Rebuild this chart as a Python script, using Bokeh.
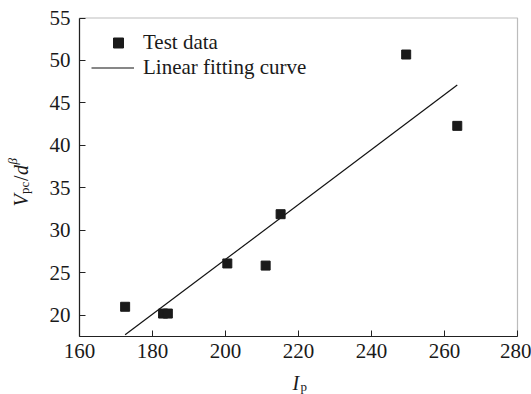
import numpy as np
from bokeh.plotting import figure
from bokeh.models import Legend, LegendItem, Label, FixedTicker, Range1d, BoxAnnotation
from bokeh.embed import file_html
from bokeh.resources import INLINE

# Data
ip_values = [172.5, 182.9, 184.2, 200.5, 211.0, 215.1, 249.5, 263.5]
vpc_values = [21.0, 20.2, 20.2, 26.1, 25.85, 31.9, 50.7, 42.3]
x_ticks = [160, 180, 200, 220, 240, 260, 280]
y_ticks = [20, 25, 30, 35, 40, 45, 50, 55]
x_lim = [160, 280]
y_lim = [17.5, 55]
legend_labels = ["Test data", "Linear fitting curve"]

# Linear fit of the test data
slope, intercept = np.polyfit(ip_values, vpc_values, 1)
fit_x = [min(ip_values), max(ip_values)]
fit_y = [slope * v + intercept for v in fit_x]

# layout (pixels): plot box inside the 531x394 canvas
W, H = 531, 394
BL, BR, BT, BB = 79, 14, 17.5, 58
kx = (x_lim[1] - x_lim[0]) / (W - BL - BR)
ky = (y_lim[1] - y_lim[0]) / (H - BT - BB)
x_range = Range1d(x_lim[0] - BL * kx, x_lim[1] + BR * kx)
y_range = Range1d(y_lim[0] - BB * ky, y_lim[1] + BT * ky)

FONT = "Liberation Serif"
INK = "#1a1a1a"
AX = "#222222"

p = figure(width=W, height=H, output_backend="svg", toolbar_location=None,
           x_range=x_range, y_range=y_range,
           min_border_left=0, min_border_right=0, min_border_top=0, min_border_bottom=0)
p.xgrid.visible = False
p.ygrid.visible = False
p.outline_line_color = None
p.background_fill_color = "white"
p.border_fill_color = "white"

xa, ya = p.xaxis[0], p.yaxis[0]
xa.fixed_location = y_lim[0]
ya.fixed_location = x_lim[0]
xa.bounds = tuple(x_lim)
ya.bounds = tuple(y_lim)
for ax in (xa, ya):
    ax.axis_line_color = AX
    ax.axis_line_width = 1.2
    ax.major_tick_in = 6
    ax.major_tick_out = 0
    ax.major_tick_line_color = AX
    ax.minor_tick_line_color = None
    ax.major_label_text_font = FONT
    ax.major_label_text_font_size = "21px"
    ax.major_label_text_color = INK
xa.ticker = FixedTicker(ticks=x_ticks)
ya.ticker = FixedTicker(ticks=y_ticks)
xa.major_label_standoff = 7
ya.major_label_standoff = 9

p.add_layout(BoxAnnotation(left=x_lim[0], right=x_lim[1], bottom=y_lim[0], top=y_lim[1],
                           fill_alpha=0, line_color=AX, line_width=1.2))

ln = p.line(fit_x, fit_y, line_color="#111111", line_width=1.2)
sc = p.scatter(ip_values, vpc_values, marker="square", size=9, fill_color=INK, line_color=INK)

common = dict(margin=0, padding=0, spacing=0, glyph_height=25, label_height=25,
              label_text_font=FONT, label_text_font_size="21px", label_text_color=INK,
              background_fill_alpha=0, border_line_color=None)
legend_pts = Legend(items=[LegendItem(label=legend_labels[0], renderers=[sc])],
                    location=(103, H - 29.5 - 25), glyph_width=30, label_standoff=10, **common)
legend_fit = Legend(items=[LegendItem(label=legend_labels[1], renderers=[ln])],
                    location=(91, H - 54.5 - 25), glyph_width=43, label_standoff=9, **common)
p.add_layout(legend_pts)
p.add_layout(legend_fit)

def lab(text, x, y, size, style="normal", angle=0.0):
    # x, y: canvas pixels from the top-left corner
    p.add_layout(Label(x=x, y=H - y, x_units="screen", y_units="screen", text=text,
                       text_font=FONT, text_font_size=size, text_font_style=style,
                       text_color=INK, angle=angle, text_align="left", text_baseline="alphabetic"))

# x axis label: I_p
lab("I", 292, 382, "20px", "italic")
lab("p", 300, 385.5, "13px")

# y axis label: V_pc/d^beta (rotated, reading upward)
a = np.pi / 2
lab("V", 20, 206, "20px", "italic", a)
lab("pc", 24, 193.5, "13px", "normal", a)
lab("/", 20, 180.5, "20px", "normal", a)
lab("d", 20, 174.5, "20px", "italic", a)
lab("β", 12, 164, "13px", "italic", a)

open("out.html", "w").write(file_html(p, INLINE))
